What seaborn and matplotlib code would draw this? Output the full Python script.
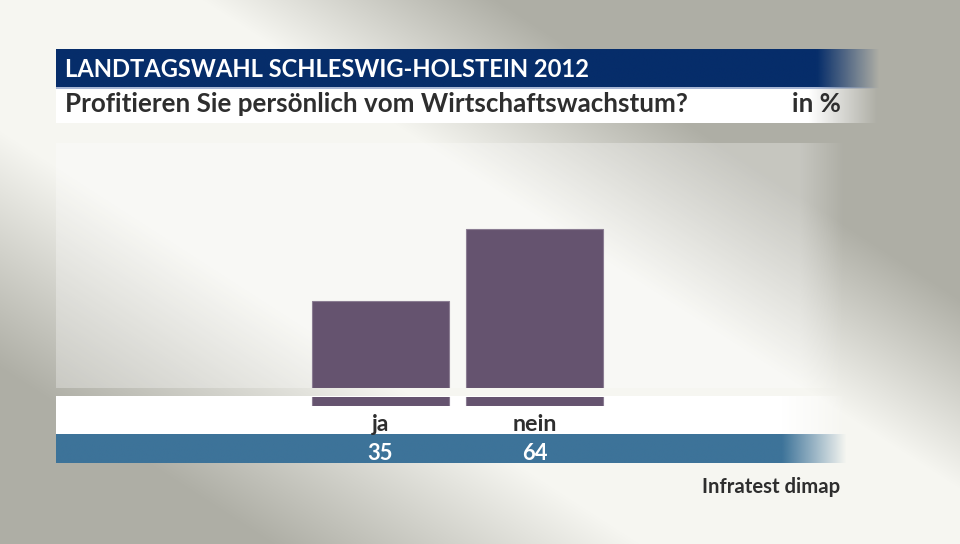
import numpy as np
import pandas as pd
import matplotlib
matplotlib.use("Agg")
import matplotlib.pyplot as plt
import seaborn as sns
from matplotlib.colors import to_rgb
from matplotlib.transforms import blended_transform_factory

# ---------------- data ----------------
title = "LANDTAGSWAHL SCHLESWIG-HOLSTEIN 2012"
subtitle = "Profitieren Sie persönlich vom Wirtschaftswachstum?"
unit_label = "in %"
source = "Infratest dimap"
categories = ["ja", "nein"]
values = [35, 64]
value_labels = ["35", "64"]

# ---------------- style ----------------
W, H = 960, 544
BAR_COLOR = "#65536f"
TITLE_BG = "#062d6a"
BLUE_BAND = "#3d7399"
DARK_TEXT = "#2e2e2e"

sns.set_theme(style="white")
plt.rcParams['font.family'] = ['Lato', 'DejaVu Sans']

fig = plt.figure(figsize=(9.6, 5.44), dpi=100)
bg = fig.add_axes([0, 0, 1, 1])
bg.axis('off')

# background gradient (light diagonal band, darker corners)
yy, xx = np.mgrid[0:H, 0:W].astype(float)
dist = -0.542 * xx + 0.840 * yy
t = np.where(dist >= 0, (dist - 110) / 200, (-dist - 110) / 160)
t = np.clip(t, 0, 1)
light = np.array(to_rgb("#f6f6f1"))
dark = np.array(to_rgb("#aeaea5"))
img = light * (1 - t[..., None]) + dark * t[..., None]
bg.imshow(img, extent=(0, W, H, 0), aspect='auto', zorder=0, interpolation='bilinear')


def band(x0, x1, y0, y1, color, fade0, alpha=1.0, z=1):
    n = 600
    xs = np.linspace(x0, x1, n)
    a = np.where(xs < fade0, 1.0, np.clip((x1 - xs) / (x1 - fade0), 0, 1)) * alpha
    rgba = np.zeros((1, n, 4))
    rgba[..., :3] = to_rgb(color)
    rgba[..., 3] = a
    bg.imshow(rgba, extent=(x0, x1, y1, y0), aspect='auto', zorder=z, interpolation='bilinear')


band(56, 880, 49, 88, TITLE_BG, 818, z=2)
band(56, 880, 87.6, 89.2, "#a9b8d6", 818, z=3)
band(56, 878, 89.2, 122.7, "white", 810, z=2)
band(56, 845, 144, 388.3, "white", 800, alpha=0.3, z=1)
band(56, 847, 396.7, 435, "white", 783, z=2)
band(56, 847, 435, 463.5, BLUE_BAND, 783, z=2)

bg.set_xlim(0, W)
bg.set_ylim(H, 0)

renderer = fig.canvas.get_renderer()


def fit_text(x, y, s, target_w, ha, color, size0=16, weight='bold', ax=None, transform=None):
    kw = dict(ha=ha, va='baseline', color=color, fontsize=size0, fontweight=weight, zorder=10)
    if transform is not None:
        kw['transform'] = transform
    tt = (ax or bg).text(x, y, s, **kw)
    w = tt.get_window_extent(renderer=renderer).width
    tt.set_fontsize(size0 * target_w / w)
    return tt


fit_text(65, 76.7, title, 525, 'left', 'white')
fit_text(65, 111.5, subtitle, 624, 'left', DARK_TEXT)
fit_text(841, 111.5, unit_label, 49, 'right', DARK_TEXT)
fit_text(840, 492.7, source, 138, 'right', DARK_TEXT)

# ---------------- bars ----------------
df = pd.DataFrame({"cat": categories, "val": values})
centre0, step = 380.5, 154.15
ax_l, ax_r = 56, 847
xlim = (-(centre0 - ax_l) / step, (ax_r - centre0) / step)

ax = fig.add_axes([ax_l / W, (H - 388.3) / H, (ax_r - ax_l) / W, (388.3 - 139.4) / H])
ax.patch.set_alpha(0)
sns.barplot(data=df, x="cat", y="val", ax=ax, color=BAR_COLOR, saturation=1,
            width=0.893, edgecolor="#8b7d93", linewidth=0.8)
ax.set_xlim(*xlim)
ax.set_ylim(0, 100)
ax.axis('off')

# small stubs below the gap (clipped copy of the same bars)
ax2 = fig.add_axes([ax_l / W, (H - 406) / H, (ax_r - ax_l) / W, (406 - 396.7) / H])
ax2.patch.set_alpha(0)
sns.barplot(data=df, x="cat", y="val", ax=ax2, color=BAR_COLOR, saturation=1,
            width=0.893, edgecolor="#8b7d93", linewidth=0.8)
ax2.set_xlim(*xlim)
ax2.set_ylim(0, 1)
ax2.axis('off')

# category and value labels
trans = blended_transform_factory(ax.transData, bg.transData)
label_widths = {"ja": 17.5, "nein": 45}
for i, (c, v) in enumerate(zip(categories, value_labels)):
    fit_text(i, 431, c, label_widths.get(c, 30), 'center', DARK_TEXT, ax=bg, transform=trans)
    fit_text(i, 460, v, 25.5, 'center', 'white', ax=bg, transform=trans)

fig.savefig("out.png", dpi=100)
